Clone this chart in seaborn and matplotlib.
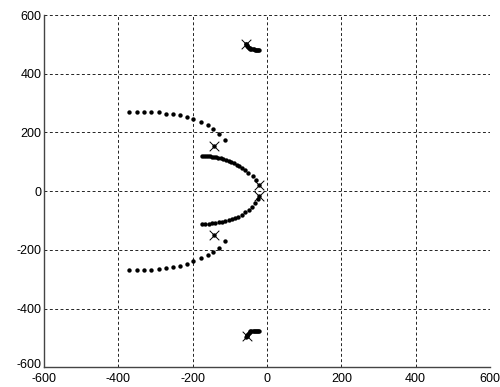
import matplotlib
matplotlib.use("Agg")
import matplotlib.pyplot as plt
import matplotlib.transforms as mtransforms
import seaborn as sns
import pandas as pd

# Root-locus points
outer_up_x = [-370, -350, -330, -311, -291, -273, -253, -233, -214, -199, -178, -160, -144, -129, -113]
outer_up_y = [270, 270, 270, 270, 269, 264, 262, 260, 254, 245, 236, 226, 212, 196, 175]
outer_dn_x = [-370, -350, -330, -311, -291, -273, -253, -233, -214, -199, -178, -160, -144, -129, -113]
outer_dn_y = [-267, -267, -267, -267, -266, -263, -259, -255, -248, -239, -228, -218, -207, -194, -171]

inner_up_x = [-175, -170, -164, -159, -154, -148, -143, -137, -132, -125, -118, -110, -103, -96, -89,
              -82, -75, -67, -58, -50, -39, -30]
inner_up_y = [120, 120, 120, 119, 119, 118, 117, 115, 114, 112, 110, 107, 104, 100, 95,
              90, 85, 78, 71, 62, 51, 39]
inner_dn_x = [-175, -166, -157, -148, -139, -130, -121, -112, -103, -94, -85, -77, -67, -58, -49,
              -40, -32, -24]
inner_dn_y = [-112, -112, -111, -110, -108, -106, -104, -102, -98, -95, -91, -87, -80, -72, -64,
              -54, -41, -26]

blob_up_x = [-57, -55, -53, -51, -49, -47, -45, -42, -39, -36, -33, -30, -27, -24, -22]
blob_up_y = [500, 497, 494, 491, 489, 487, 485, 484, 483, 483, 482, 482, 482, 482, 482]
blob_dn_x = [-57, -55, -53, -51, -49, -47, -45, -42, -39, -36, -33, -30, -27, -24, -22]
blob_dn_y = [-498, -494, -490, -486, -483, -480, -478, -477, -476, -476, -475, -475, -475, -475, -475]

pole_x = [-142, -142, -22, -22, -57, -55]
pole_y = [154, -150, 20, -18, 500, -495]

ticks = [-600, -400, -200, 0, 200, 400, 600]

pts = pd.DataFrame({
    "x": outer_up_x + outer_dn_x + inner_up_x + inner_dn_x + blob_up_x + blob_dn_x + pole_x,
    "y": outer_up_y + outer_dn_y + inner_up_y + inner_dn_y + blob_up_y + blob_dn_y + pole_y,
})
poles = pd.DataFrame({"x": pole_x, "y": pole_y})

sns.set_style("white")
plt.rcParams["font.family"] = ["Liberation Sans", "DejaVu Sans"]

fig = plt.figure(figsize=(5.0, 3.87), dpi=100)
ax = fig.add_axes([0.088, 0.051, 0.892, 0.910])

sns.scatterplot(data=pts, x="x", y="y", ax=ax, color="black", s=10, linewidth=0, marker="o",
                zorder=3, clip_on=False)
sns.scatterplot(data=poles, x="x", y="y", ax=ax, color="black", s=48, marker="x",
                linewidth=0.7, zorder=4)

ax.set_xlim(-600, 600)
ax.set_ylim(-600, 600)
ax.set_xticks(ticks)
ax.set_yticks(ticks)
ax.set_xticklabels([str(t) for t in ticks])
ax.set_yticklabels([str(t) for t in ticks])
ax.set_xlabel("")
ax.set_ylabel("")

ax.grid(True, color="#222222", linestyle=(0, (3, 2.5)), linewidth=0.7)
for s in ["top", "right"]:
    ax.spines[s].set_visible(False)
for s in ["left", "bottom"]:
    ax.spines[s].set_color("#444444")
    ax.spines[s].set_linewidth(1.0)
ax.tick_params(direction="in", length=3, width=0.8, colors="#444444", labelcolor="black",
               labelsize=9)
ax.tick_params(axis="x", pad=4)
ax.tick_params(axis="y", pad=2)
ax.set_axisbelow(True)

# lift the lowest y label a touch so it sits just above the x label, as in the reference
lowest = ax.get_yticklabels()[0]
lowest.set_transform(lowest.get_transform() +
                     mtransforms.ScaledTranslation(0, 2.5 / 72, fig.dpi_scale_trans))

fig.savefig("out.png", dpi=100, facecolor="white")
